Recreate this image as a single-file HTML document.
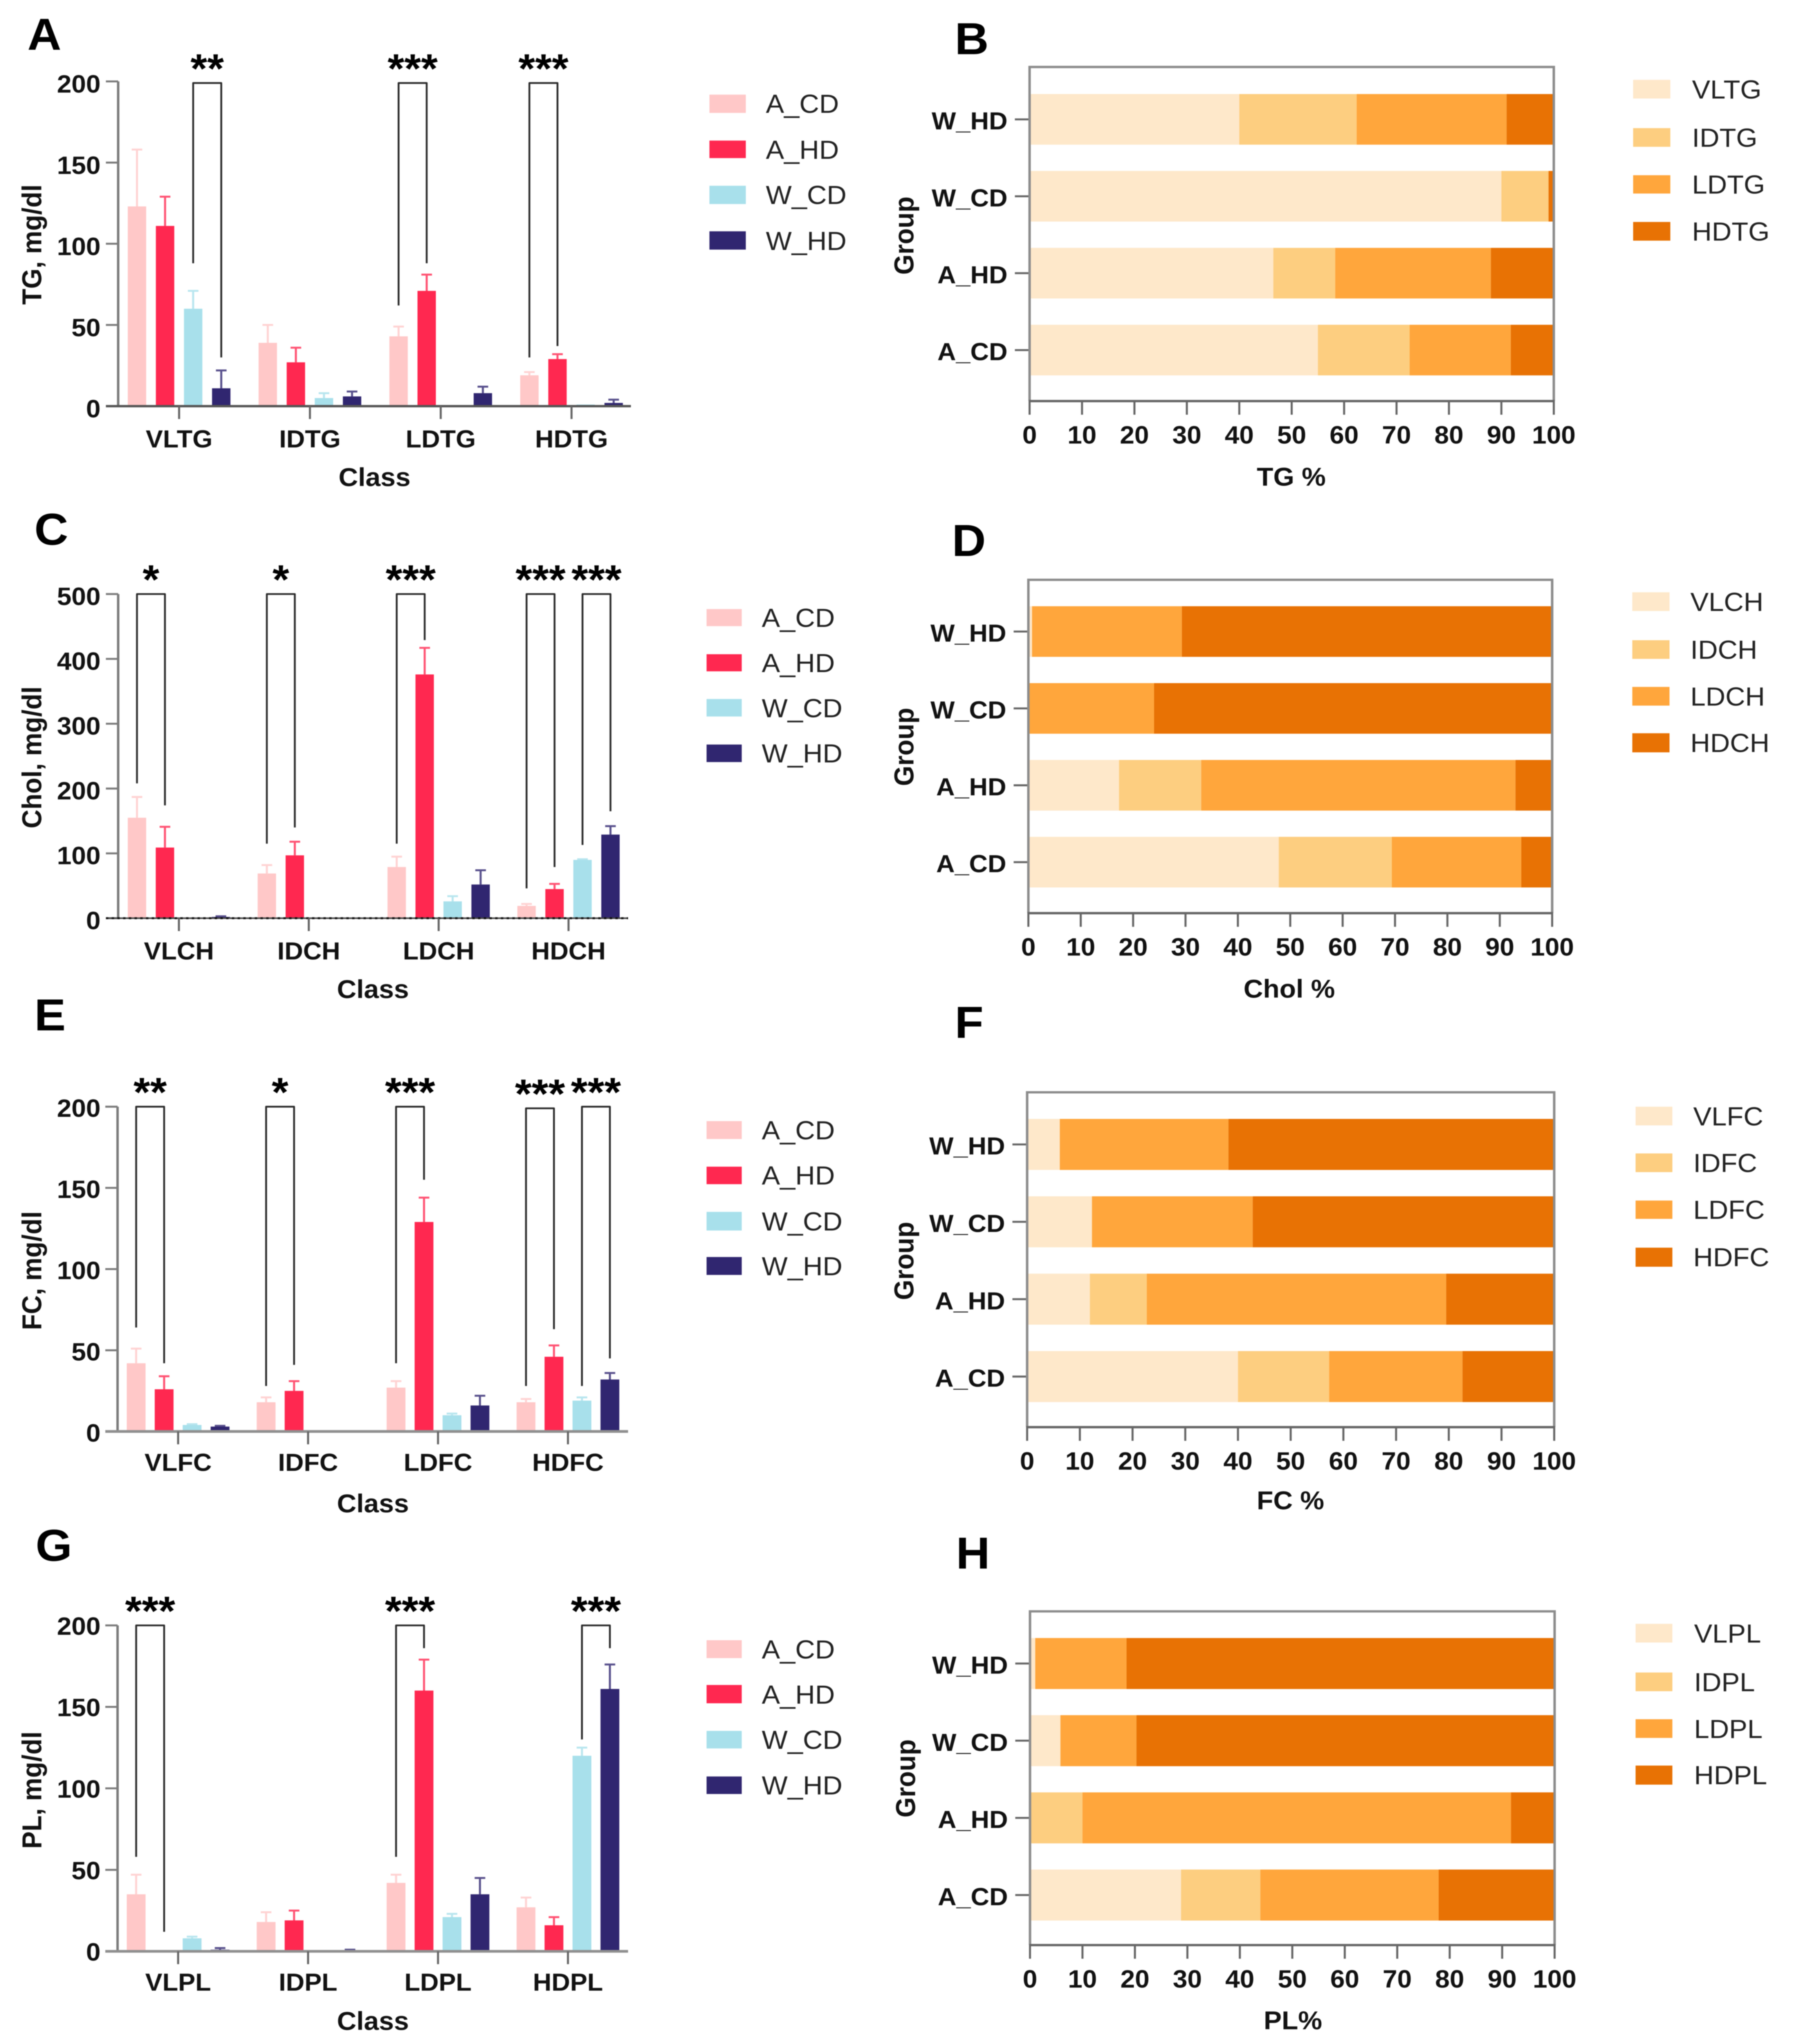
<!DOCTYPE html>
<html lang="en">
<head>
<meta charset="utf-8">
<title>Lipoprotein class composition</title>
<style>
html,body{margin:0;padding:0;background:#fff;width:100vw;height:100vh;overflow:hidden;}
svg{display:block;width:100vw;height:100vh;overflow:hidden;font-family:"Liberation Sans",sans-serif;}
#content{filter:blur(1.4px);}
.letter{font-size:115px;font-weight:700;fill:#000;}
.leg{font-size:67px;fill:#222;}
.ytitle{font-size:67px;font-weight:700;fill:#111;text-anchor:middle;}
.xtitle{font-size:66px;font-weight:700;fill:#111;text-anchor:middle;}
</style>
</head>
<body>
<svg id="figure" viewBox="0 0 4385 5249" preserveAspectRatio="none" xmlns="http://www.w3.org/2000/svg">
<rect width="4385" height="5249" fill="#fff"/>
<g id="content">

<text class="letter" x="67" y="128">A</text>
<text class="letter" x="2335" y="139">B</text>
<text class="letter" x="84" y="1399">C</text>
<text class="letter" x="2328" y="1428">D</text>
<text class="letter" x="84" y="2646">E</text>
<text class="letter" x="2335" y="2665">F</text>
<text class="letter" x="87" y="4008">G</text>
<text class="letter" x="2338" y="4028">H</text>

<!-- left panel titles -->
<text class="ytitle" transform="translate(101,628) rotate(-90)">TG, mg/dl</text>
<text class="ytitle" transform="translate(101,1945) rotate(-90)">Chol, mg/dl</text>
<text class="ytitle" transform="translate(101,3263) rotate(-90)">FC, mg/dl</text>
<text class="ytitle" transform="translate(101,4597) rotate(-90)">PL, mg/dl</text>
<text class="xtitle" x="916" y="1248">Class</text>
<text class="xtitle" x="912" y="2563">Class</text>
<text class="xtitle" x="912" y="3884">Class</text>
<text class="xtitle" x="912" y="5213">Class</text>

<!-- right panel titles -->
<text class="ytitle" transform="translate(2234,605) rotate(-90)">Group</text>
<text class="ytitle" transform="translate(2234,1918) rotate(-90)">Group</text>
<text class="ytitle" transform="translate(2234,3238) rotate(-90)">Group</text>
<text class="ytitle" transform="translate(2238,4567) rotate(-90)">Group</text>
<text class="xtitle" x="3158" y="1247">TG %</text>
<text class="xtitle" x="3153" y="2562">Chol %</text>
<text class="xtitle" x="3156" y="3876">FC %</text>
<text class="xtitle" x="3162" y="5211">PL%</text>

<!-- legend A -->
<g>
<rect x="1735" y="243" width="89" height="47" fill="#FFC8C8"/><text class="leg" x="1873" y="290">A_CD</text>
<rect x="1735" y="361" width="89" height="45" fill="#FF2850"/><text class="leg" x="1873" y="408">A_HD</text>
<rect x="1735" y="477" width="89" height="47" fill="#A8E0EB"/><text class="leg" x="1873" y="524">W_CD</text>
<rect x="1735" y="594" width="89" height="47" fill="#302670"/><text class="leg" x="1873" y="642">W_HD</text>
</g>
<!-- legend C -->
<g>
<rect x="1728" y="1564" width="86" height="44" fill="#FFC8C8"/><text class="leg" x="1863" y="1610">A_CD</text>
<rect x="1728" y="1680" width="86" height="44" fill="#FF2850"/><text class="leg" x="1863" y="1726">A_HD</text>
<rect x="1728" y="1795" width="86" height="45" fill="#A8E0EB"/><text class="leg" x="1863" y="1842">W_CD</text>
<rect x="1728" y="1912" width="86" height="45" fill="#302670"/><text class="leg" x="1863" y="1958">W_HD</text>
</g>
<!-- legend E -->
<g>
<rect x="1728" y="2879" width="86" height="46" fill="#FFC8C8"/><text class="leg" x="1863" y="2926">A_CD</text>
<rect x="1728" y="2996" width="86" height="45" fill="#FF2850"/><text class="leg" x="1863" y="3042">A_HD</text>
<rect x="1728" y="3112" width="86" height="48" fill="#A8E0EB"/><text class="leg" x="1863" y="3160">W_CD</text>
<rect x="1728" y="3228" width="86" height="46" fill="#302670"/><text class="leg" x="1863" y="3275">W_HD</text>
</g>
<!-- legend G -->
<g>
<rect x="1728" y="4212" width="86" height="46" fill="#FFC8C8"/><text class="leg" x="1863" y="4259">A_CD</text>
<rect x="1728" y="4327" width="86" height="47" fill="#FF2850"/><text class="leg" x="1863" y="4375">A_HD</text>
<rect x="1728" y="4445" width="86" height="45" fill="#A8E0EB"/><text class="leg" x="1863" y="4491">W_CD</text>
<rect x="1728" y="4562" width="86" height="45" fill="#302670"/><text class="leg" x="1863" y="4608">W_HD</text>
</g>
<!-- legend B -->
<g>
<rect x="3994" y="205" width="91" height="48" fill="#FEE8CA"/><text class="leg" x="4138" y="253">VLTG</text>
<rect x="3994" y="329" width="91" height="48" fill="#FDCE80"/><text class="leg" x="4138" y="377">IDTG</text>
<rect x="3994" y="450" width="91" height="47" fill="#FFA63C"/><text class="leg" x="4138" y="497">LDTG</text>
<rect x="3994" y="570" width="91" height="48" fill="#E87204"/><text class="leg" x="4138" y="618">HDTG</text>
</g>
<!-- legend D -->
<g>
<rect x="3992" y="1521" width="91" height="48" fill="#FEE8CA"/><text class="leg" x="4134" y="1569">VLCH</text>
<rect x="3992" y="1644" width="91" height="48" fill="#FDCE80"/><text class="leg" x="4134" y="1692">IDCH</text>
<rect x="3992" y="1764" width="91" height="48" fill="#FFA63C"/><text class="leg" x="4134" y="1812">LDCH</text>
<rect x="3992" y="1883" width="91" height="49" fill="#E87204"/><text class="leg" x="4134" y="1931">HDCH</text>
</g>
<!-- legend F -->
<g>
<rect x="4000" y="2842" width="90" height="48" fill="#FEE8CA"/><text class="leg" x="4141" y="2890">VLFC</text>
<rect x="4000" y="2962" width="90" height="48" fill="#FDCE80"/><text class="leg" x="4141" y="3010">IDFC</text>
<rect x="4000" y="3083" width="90" height="47" fill="#FFA63C"/><text class="leg" x="4141" y="3130">LDFC</text>
<rect x="4000" y="3204" width="90" height="49" fill="#E87204"/><text class="leg" x="4141" y="3252">HDFC</text>
</g>
<!-- legend H -->
<g>
<rect x="4000" y="4170" width="90" height="48" fill="#FEE8CA"/><text class="leg" x="4143" y="4218">VLPL</text>
<rect x="4000" y="4295" width="90" height="48" fill="#FDCE80"/><text class="leg" x="4143" y="4343">IDPL</text>
<rect x="4000" y="4415" width="90" height="48" fill="#FFA63C"/><text class="leg" x="4143" y="4463">LDPL</text>
<rect x="4000" y="4534" width="90" height="49" fill="#E87204"/><text class="leg" x="4143" y="4582">HDPL</text>
</g>
</g>
</svg>

<script>
// ---------- shared labels ----------
const groupNames = ['A_CD', 'A_HD', 'W_CD', 'W_HD'];
const pctTicks = [0, 10, 20, 30, 40, 50, 60, 70, 80, 90, 100];

// ---------- TG (panels A, B) ----------
const tgCategories = ['VLTG', 'IDTG', 'LDTG', 'HDTG'];
const tgYTicks = [0, 50, 100, 150, 200];
const tgACD = [123, 39, 43, 19];
const tgAHD = [111, 27, 71, 29];
const tgWCD = [60, 5, 0, 1];
const tgWHD = [11, 6, 8, 2];
const tgACDUpper = [158, 50, 49, 21];
const tgAHDUpper = [129, 36, 81, 32];
const tgWCDUpper = [71, 8, 0, 1];
const tgWHDUpper = [22, 9, 12, 4];
const tgSig = [[0, 2, 3, 88, 30, '**', 199], [2, 0, 1, 62, 88, '***', 199], [3, 0, 1, 30, 37, '***', 199]];
const tgPctVL = [55, 46.5, 90, 40];
const tgPctID = [17.5, 11.8, 9, 22.4];
const tgPctLD = [19.3, 29.7, 0, 28.6];
const tgPctHD = [8.2, 12, 1, 9];

// ---------- Chol (panels C, D) ----------
const chCategories = ['VLCH', 'IDCH', 'LDCH', 'HDCH'];
const chYTicks = [0, 100, 200, 300, 400, 500];
const chACD = [155, 69, 79, 19];
const chAHD = [109, 97, 376, 45];
const chWCD = [0, 0, 26, 90];
const chWHD = [2, 0, 52, 129];
const chACDUpper = [187, 82, 95, 22];
const chAHDUpper = [141, 118, 417, 53];
const chWCDUpper = [0, 0, 34, 91];
const chWHDUpper = [3, 0, 74, 142];
const chSig = [[0, 0, 1, 208, 174, '*', 500], [1, 0, 1, 115, 140, '*', 500], [2, 0, 1, 115, 429, '***', 500], [3, 0, 1, 46, 79, '***', 500], [3, 2, 3, 113, 165, '***', 500]];
const chPctVL = [47.8, 17.3, 0, 0.7];
const chPctID = [21.6, 15.7, 0, 0];
const chPctLD = [24.7, 60, 24, 28.6];
const chPctHD = [5.9, 7, 76, 70.7];

// ---------- FC (panels E, F) ----------
const fcCategories = ['VLFC', 'IDFC', 'LDFC', 'HDFC'];
const fcYTicks = [0, 50, 100, 150, 200];
const fcACD = [42, 18, 27, 18];
const fcAHD = [26, 25, 129, 46];
const fcWCD = [4, 0, 10, 19];
const fcWHD = [3, 0, 16, 32];
const fcACDUpper = [51, 21, 31, 20];
const fcAHDUpper = [34, 31, 144, 53];
const fcWCDUpper = [4.5, 0, 11, 21];
const fcWHDUpper = [3.5, 0, 22, 36];
const fcSig = [[0, 0, 1, 64, 42, '**', 200], [1, 0, 1, 28, 41, '*', 200], [2, 0, 1, 42, 155, '***', 200], [3, 0, 1, 28, 63, '***', 199], [3, 2, 3, 28, 45, '***', 200]];
const fcPctVL = [40, 11.9, 12.3, 6.2];
const fcPctID = [17.3, 10.8, 0, 0];
const fcPctLD = [25.3, 56.8, 30.5, 32];
const fcPctHD = [17.4, 20.5, 57.2, 61.8];

// ---------- PL (panels G, H) ----------
const plCategories = ['VLPL', 'IDPL', 'LDPL', 'HDPL'];
const plYTicks = [0, 50, 100, 150, 200];
const plACD = [35, 18, 42, 27];
const plAHD = [0, 19, 160, 16];
const plWCD = [8, 0, 21, 120];
const plWHD = [1, 0.5, 35, 161];
const plACDUpper = [47, 24, 47, 33];
const plAHDUpper = [0, 25, 179, 21];
const plWCDUpper = [9, 0, 23, 125];
const plWHDUpper = [2, 1, 45, 176];
const plSig = [[0, 0, 1, 58, 12, '***', 200], [2, 0, 1, 58, 186, '***', 200], [3, 2, 3, 130, 186, '***', 200]];
const plPctVL = [28.8, 0, 5.8, 1];
const plPctID = [15.1, 10, 0, 0];
const plPctLD = [34, 81.7, 14.5, 17.4];
const plPctHD = [22.1, 8.3, 79.7, 81.6];

// ---------- styling ----------
const barColors = ['#FFC8C8', '#FF2850', '#A8E0EB', '#302670'];
const stackColors = ['#FEE8CA', '#FDCE80', '#FFA63C', '#E87204'];
const SVGNS = 'http://www.w3.org/2000/svg';
const fig = document.getElementById('content');

function mk(parent, tag, attrs, text) {
  const el = document.createElementNS(SVGNS, tag);
  for (const k in attrs) el.setAttribute(k, attrs[k]);
  if (text !== undefined) el.textContent = text;
  parent.appendChild(el);
  return el;
}

function drawBarPanel(id, L, categories, yTicks, means, uppers, sig) {
  const g = mk(fig, 'g', {});
  
  
  const yScale = v => L.y0 - (v / L.yMax) * (L.y0 - L.yTop);
  const barX = (c, s) => L.first + c * L.groupStep + s * L.barStep;
  const catX = c => barX(c, 1.5);

  // bars + error bars
  means.forEach((series, s) => {
    series.forEach((v, c) => {
      const up = uppers[s][c];
      if (up > v) {
        const err = mk(g, 'path', {
          d: 'M' + barX(c, s) + ' ' + yScale(v) + 'V' + yScale(up) + 'M' + (barX(c, s) - 13) + ' ' + yScale(up) + 'H' + (barX(c, s) + 13),
          fill: 'none', stroke: barColors[s], 'stroke-width': 5, 'stroke-opacity': 0.8
        });
        
        
      }
      if (v > 0) {
        const bar = mk(g, 'rect', {
          x: barX(c, s) - L.barW / 2, y: yScale(v), width: L.barW, height: L.y0 - yScale(v), fill: barColors[s]
        });
        
        
      }
    });
  });

  // y axis
  const yAxis = mk(g, 'line', { x1: L.axisX, x2: L.axisX, y1: L.yTop, y2: L.y0, stroke: '#7c7c7c', 'stroke-width': 6 });
  
  
  yTicks.forEach(t => {
    const tick = mk(g, 'line', { x1: L.axisX - 30, x2: L.axisX, y1: yScale(t), y2: yScale(t), stroke: '#7c7c7c', 'stroke-width': 5 });
    
    
    const lab = mk(g, 'text', { x: 246, y: yScale(t) + L.tickDy, 'text-anchor': 'end', 'font-size': 64, 'font-weight': 700, fill: '#111' }, String(t));
    
    
  });

  // x axis
  const xAxis = mk(g, 'line', { x1: L.axisX - 30, x2: L.axisRight, y1: L.y0, y2: L.y0, stroke: L.axisColor, 'stroke-width': L.axisW });
  
  
  if (L.dotted) {
    const dots = mk(g, 'line', { x1: L.axisX - 30, x2: L.axisRight, y1: L.y0, y2: L.y0, stroke: '#111', 'stroke-width': 5, 'stroke-dasharray': '6 8' });
    
    
  }
  categories.forEach((name, c) => {
    const tick = mk(g, 'line', { x1: catX(c), x2: catX(c), y1: L.y0, y2: L.y0 + 33, stroke: '#666', 'stroke-width': 5 });
    
    
    const lab = mk(g, 'text', { x: catX(c), y: L.y0 + L.catDy, 'text-anchor': 'middle', 'font-size': 63, 'font-weight': 700, fill: '#111' }, name);
    
    
  });

  // significance brackets
  sig.forEach(row => {
    const [c, sL, sR, vL, vR, stars, top] = row;
    const xL = barX(c, sL), xR = barX(c, sR), yT = yScale(top);
    const br = mk(g, 'path', {
      d: 'M' + xL + ' ' + yScale(vL) + 'V' + yT + 'H' + xR + 'V' + yScale(vR),
      fill: 'none', stroke: '#2b2b2b', 'stroke-width': 4.5, 'stroke-linejoin': 'round'
    });
    
    
    const st = mk(g, 'text', { x: (xL + xR) / 2, y: yT - 1, 'text-anchor': 'middle', 'font-size': 105, 'font-weight': 700, fill: '#000' }, stars);
    
    
  });
}

function drawStackPanel(id, L, stacks) {
  const g = mk(fig, 'g', {});
  
  
  const xScale = v => L.x0 + (v / 100) * (L.x100 - L.x0);
  const rowY = r => L.c0 - r * L.rowStep;

  groupNames.forEach((name, r) => {
    let acc = 0;
    stacks.forEach((series, s) => {
      const v = series[r];
      if (v > 0) {
        const seg = mk(g, 'rect', {
          x: xScale(acc), y: rowY(r) - L.barH / 2, width: xScale(acc + v) - xScale(acc), height: L.barH, fill: stackColors[s]
        });
        
        
      }
      acc += v;
    });
    const tick = mk(g, 'line', { x1: L.x0 - 36, x2: L.x0, y1: rowY(r), y2: rowY(r), stroke: '#666', 'stroke-width': 5 });
    
    
    const lab = mk(g, 'text', { x: L.x0 - 54, y: rowY(r) + 26, 'text-anchor': 'end', 'font-size': 63, 'font-weight': 700, fill: '#111' }, name);
    
    
  });

  const frame = mk(g, 'path', {
    d: 'M' + L.x0 + ' ' + L.bottom + 'V' + L.top + 'H' + L.x100 + 'V' + L.bottom,
    fill: 'none', stroke: '#8c8c8c', 'stroke-width': 6
  });
  
  
  const xAxis = mk(g, 'line', { x1: L.x0 - 2, x2: L.x100 + 2, y1: L.bottom, y2: L.bottom, stroke: '#666', 'stroke-width': 6 });
  
  

  pctTicks.forEach(t => {
    const tick = mk(g, 'line', { x1: xScale(t), x2: xScale(t), y1: L.bottom, y2: L.bottom + 35, stroke: '#666', 'stroke-width': 5 });
    
    
    const lab = mk(g, 'text', { x: xScale(t), y: L.bottom + 109, 'text-anchor': 'middle', 'font-size': 64, 'font-weight': 700, fill: '#111' }, String(t));
    
    
  });
}

// ---------- layouts ----------
const layoutA = { axisX: 289, axisRight: 1543, y0: 1043, yTop: 209, yMax: 200, first: 335, barStep: 68.7, groupStep: 319.9, barW: 45, axisColor: '#555', axisW: 6, dotted: false, tickDy: 29, catDy: 106 };
const layoutC = { axisX: 289, axisRight: 1536, y0: 2358, yTop: 1525.5, yMax: 500, first: 335, barStep: 68.4, groupStep: 317.6, barW: 45, axisColor: '#444', axisW: 4, dotted: true, tickDy: 28, catDy: 106 };
const layoutE = { axisX: 287.5, axisRight: 1536, y0: 3676, yTop: 2842, yMax: 200, first: 333, barStep: 68.4, groupStep: 317.8, barW: 46, axisColor: '#909090', axisW: 7, dotted: false, tickDy: 26, catDy: 101 };
const layoutG = { axisX: 287.5, axisRight: 1536, y0: 5011, yTop: 4174, yMax: 200, first: 333, barStep: 68.4, groupStep: 317.8, barW: 46, axisColor: '#909090', axisW: 7, dotted: false, tickDy: 24, catDy: 101 };
const layoutB = { x0: 2518, x100: 3800, top: 172, bottom: 1030, c0: 899, rowStep: 197.5, barH: 130 };
const layoutD = { x0: 2515, x100: 3796, top: 1489, bottom: 2345, c0: 2214, rowStep: 197.4, barH: 130 };
const layoutF = { x0: 2512, x100: 3801, top: 2805, bottom: 3665, c0: 3535, rowStep: 198.7, barH: 131 };
const layoutH = { x0: 2519, x100: 3802, top: 4138, bottom: 4995, c0: 4866.5, rowStep: 198.2, barH: 131 };

// ---------- draw ----------
drawBarPanel('a', layoutA, tgCategories, tgYTicks, [tgACD, tgAHD, tgWCD, tgWHD], [tgACDUpper, tgAHDUpper, tgWCDUpper, tgWHDUpper], tgSig);
drawBarPanel('c', layoutC, chCategories, chYTicks, [chACD, chAHD, chWCD, chWHD], [chACDUpper, chAHDUpper, chWCDUpper, chWHDUpper], chSig);
drawBarPanel('e', layoutE, fcCategories, fcYTicks, [fcACD, fcAHD, fcWCD, fcWHD], [fcACDUpper, fcAHDUpper, fcWCDUpper, fcWHDUpper], fcSig);
drawBarPanel('g', layoutG, plCategories, plYTicks, [plACD, plAHD, plWCD, plWHD], [plACDUpper, plAHDUpper, plWCDUpper, plWHDUpper], plSig);
drawStackPanel('b', layoutB, [tgPctVL, tgPctID, tgPctLD, tgPctHD]);
drawStackPanel('d', layoutD, [chPctVL, chPctID, chPctLD, chPctHD]);
drawStackPanel('f', layoutF, [fcPctVL, fcPctID, fcPctLD, fcPctHD]);
drawStackPanel('h', layoutH, [plPctVL, plPctID, plPctLD, plPctHD]);
</script>
</body>
</html>
